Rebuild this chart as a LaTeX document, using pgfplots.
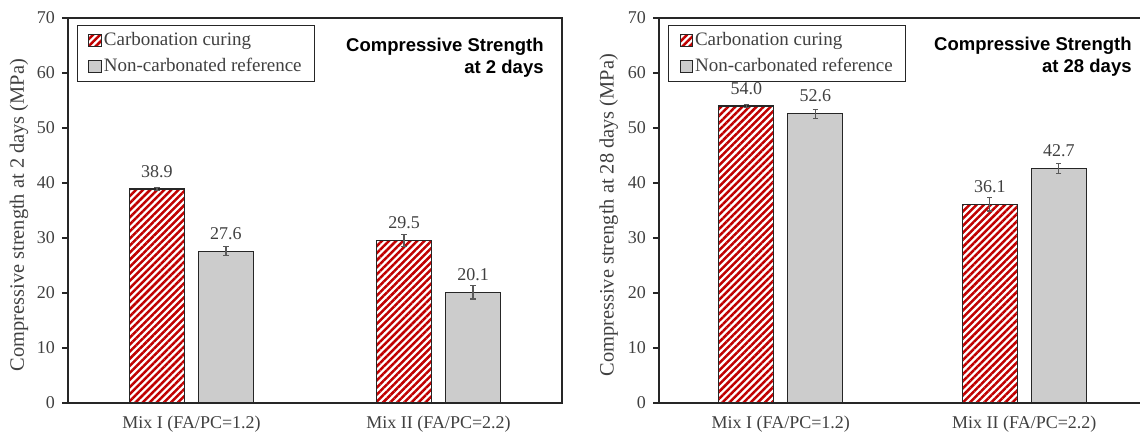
\documentclass[border=0pt]{standalone}
\usepackage{pgfplots}
\pgfplotsset{compat=1.18}
\usepackage{fontspec}
\setmainfont{Liberation Serif}
\newfontfamily\titlefont{Liberation Sans}
\usetikzlibrary{patterns.meta}

\definecolor{hatchred}{HTML}{C00000}
\definecolor{barGray}{HTML}{CCCCCC}
\definecolor{txtGray}{HTML}{404040}
\definecolor{errGray}{HTML}{595959}
\definecolor{axGray}{HTML}{262626}

\newcommand{\basefont}{\fontsize{9pt}{11pt}\selectfont}
\newcommand{\legfont}{\fontsize{9.5pt}{11pt}\selectfont}
\newcommand{\labfont}{\fontsize{10.2pt}{12pt}\selectfont}

\pgfplotsset{
  strengthaxis/.style={
    scale only axis,
    anchor=south west,
    height=192.5pt,
    ymin=0, ymax=70,
    ytick={0,10,...,70},
    xmin=-0.5,
    xtick={0,1},
    xticklabels={Mix I (FA/PC=1.2), Mix II (FA/PC=2.2)},
    x tick style={draw=none},
    ytick pos=left,
    tick align=outside,
    major tick length=3pt,
    y tick style={axGray, line width=0.6pt},
    axis line style={axGray, line width=0.6pt},
    /pgf/number format/assume math mode=true,
    tick label style={font=\basefont, text=txtGray},
    label style={font=\labfont, text=txtGray},
    ylabel style={rotate=0, anchor=center},
    ybar=7pt,
    bar width=27.5pt,
    nodes near coords={\pgfmathprintnumber[fixed,fixed zerofill,precision=1]{\pgfplotspointmeta}},
    nodes near coords style={anchor=south, inner sep=0pt, yshift=5.5pt, font=\basefont, text=txtGray},
    legend style={
      at={(axis description cs:0.018,0.982)}, anchor=north west,
      draw=axGray, line width=0.6pt, font=\legfont, text=txtGray,
      inner xsep=5.5pt, inner ysep=1pt,
      row sep=0pt,
      nodes={inner xsep=1pt, inner ysep=2.2pt, text height=6.6pt, text depth=2pt},
    },
    legend cell align=left,
    every axis plot post/.append style={
      legend image code/.code={\draw[##1, line width=0.5pt] (0pt,-3.1pt) rectangle (6.2pt,3.1pt);}
    },
  },
  carb/.style={
    draw=axGray, line width=0.6pt,
    pattern={Lines[angle=45, distance=2.5pt, line width=1.25pt]}, pattern color=hatchred,
    error bars/.cd, y dir=both, y explicit,
    error bar style={errGray, line width=0.6pt},
    error mark options={errGray, line width=0.6pt, mark size=1.3pt, rotate=90},
  },
  ref/.style={
    draw=axGray, line width=0.6pt, fill=barGray,
    error bars/.cd, y dir=both, y explicit,
    error bar style={errGray, line width=0.6pt},
    error mark options={errGray, line width=0.6pt, mark size=1.3pt, rotate=90},
  },
}

\begin{document}
\begin{tikzpicture}
% 2-day strength
\begin{axis}[strengthaxis, at={(34pt,18pt)}, width=247pt, xmax=1.5,
  ylabel={Compressive strength at 2 days (MPa)},
  ylabel style={at={(axis description cs:-0.099,0.488)}, rotate=0},
]
\addplot[carb] coordinates {(0,38.9) +- (0,0.3) (1,29.5) +- (0,1.1)};
\addplot[ref] coordinates {(0,27.6) +- (0,0.8) (1,20.1) +- (0,1.2)};
\legend{Carbonation curing, Non-carbonated reference}
\node[anchor=north east, align=right, inner sep=0pt,
      font=\titlefont\bfseries\fontsize{9.25pt}{10.75pt}\selectfont]
  at (axis description cs:0.9636,0.948) {Compressive Strength\\at 2 days};
\end{axis}
% 28-day strength (frame runs past the right edge of the page)
\begin{axis}[strengthaxis, at={(329.5pt,18pt)}, width=250.8pt, xmax=1.56,
  ylabel={Compressive strength at 28 days (MPa)},
  ylabel style={at={(axis description cs:-0.1,0.488)}, rotate=0},
]
\addplot[carb] coordinates {(0,54.0) +- (0,0.3) (1,36.1) +- (0,1.2)};
\addplot[ref] coordinates {(0,52.6) +- (0,0.8) (1,42.7) +- (0,0.9)};
\legend{Carbonation curing, Non-carbonated reference}
\node[anchor=north east, align=right, inner sep=0pt,
      font=\titlefont\bfseries\fontsize{9.25pt}{10.75pt}\selectfont]
  at (axis description cs:0.943,0.951) {Compressive Strength\\at 28 days};
\end{axis}
\pgfresetboundingbox
\useasboundingbox (0,0) rectangle (570pt,219.5pt);
\end{tikzpicture}
\end{document}
